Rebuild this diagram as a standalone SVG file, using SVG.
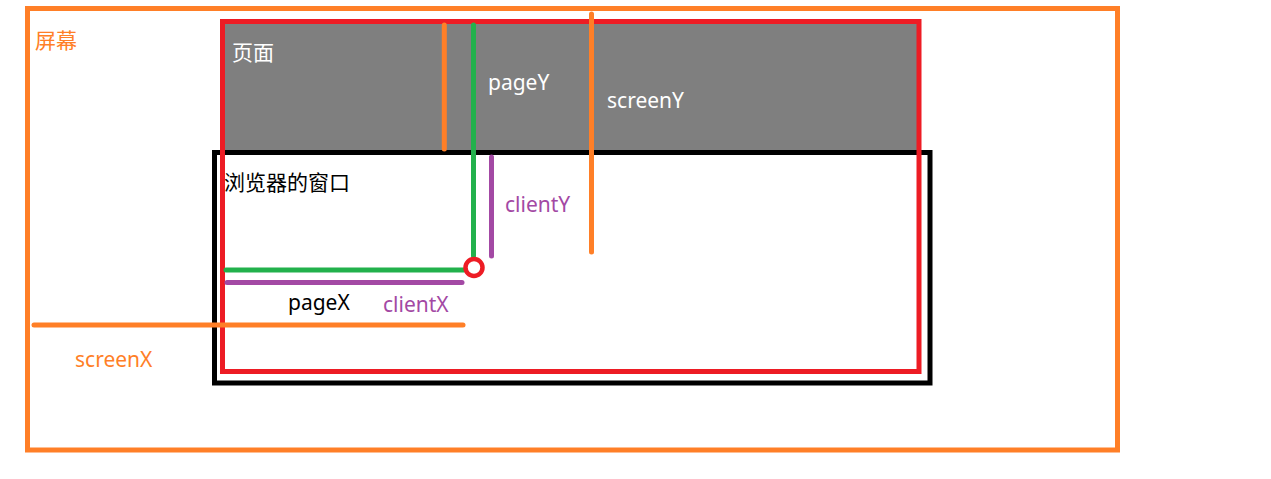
<svg xmlns="http://www.w3.org/2000/svg" width="1271" height="479" viewBox="0 0 1271 479">
<style>
text{font-family:"Microsoft YaHei","Noto Sans","Noto Sans CJK SC",sans-serif;font-size:21px}
.frame{fill:none;stroke-width:5}
.ln{fill:none;stroke-width:5;stroke-linecap:round}
.or{stroke:#FF7F27}.gr{stroke:#22B14C}.pu{stroke:#A349A4}
</style>
<rect width="1271" height="479" fill="#fff"/>
<g id="screen">
<rect class="frame" x="27.5" y="8.5" width="1090" height="441.5" stroke="#FF7F27"/>
<text x="35" y="48" fill="#FF7F27">屏幕</text>
</g>
<g id="page-fill">
<rect x="224" y="24" width="694" height="127" fill="#7F7F7F"/>
</g>
<g id="window">
<rect class="frame" x="214.5" y="152.5" width="715.5" height="230.5" stroke="#000"/>
<text x="224" y="190" fill="#000">浏览器的窗口</text>
</g>
<g id="page">
<rect class="frame" x="222.5" y="21.5" width="696.5" height="350" stroke="#ED1C24"/>
<text x="232" y="60" fill="#fff">页面</text>
</g>
<g id="connectors">
<line class="ln or" x1="444.3" y1="25" x2="444.3" y2="149"/>
<line class="ln or" x1="591.5" y1="14" x2="591.5" y2="252"/>
<line class="ln gr" x1="473.5" y1="25" x2="473.5" y2="256"/>
<line class="ln pu" x1="491.5" y1="157" x2="491.5" y2="256"/>
<line class="ln gr" x1="226" y1="270" x2="464" y2="270"/>
<line class="ln pu" x1="227" y1="282.5" x2="462" y2="282.5"/>
<line class="ln or" x1="34" y1="325" x2="463" y2="325"/>
</g>
<g id="point">
<circle cx="474" cy="267.5" r="8.5" fill="#fff" stroke="#ED1C24" stroke-width="4.5"/>
</g>
<g id="labels">
<text x="488" y="90" fill="#fff">pageY</text>
<text x="607" y="108" fill="#fff">screenY</text>
<text x="505" y="212" fill="#A349A4">clientY</text>
<text x="288" y="310" fill="#000">pageX</text>
<text x="383" y="312" fill="#A349A4">clientX</text>
<text x="75" y="367" fill="#FF7F27">screenX</text>
</g>
</svg>
